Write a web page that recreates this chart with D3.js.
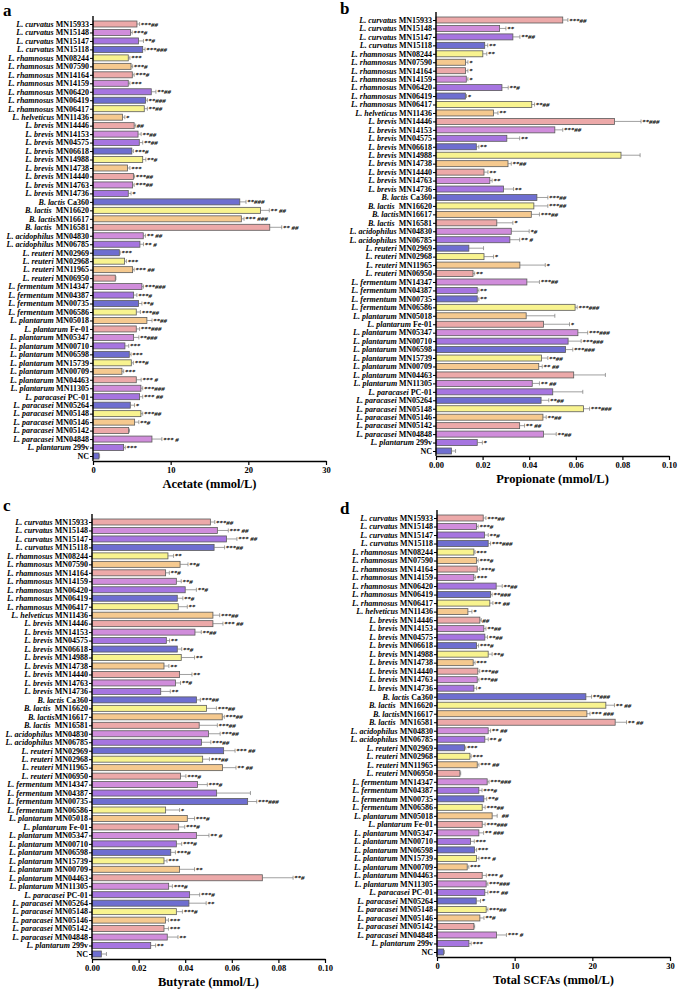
<!DOCTYPE html>
<html>
<head>
<meta charset="utf-8">
<script src="https://cdn.jsdelivr.net/npm/d3@7"></script>
<style>
  body { margin: 0; background: #fff; }
  svg { font-family: "Liberation Serif", "Times New Roman", serif; }
  .lbl { white-space: pre; }
</style>
</head>
<body>
<script>
/* DATA */
var strains = [
  "L. curvatus MN15933", "L. curvatus MN15148", "L. curvatus MN15147", "L. curvatus MN15118",
  "L. rhamnosus MN08244", "L. rhamnosus MN07590", "L. rhamnosus MN14164", "L. rhamnosus MN14159",
  "L. rhamnosus MN06420", "L. rhamnosus MN06419", "L. rhamnosus MN06417", "L. helveticus MN11436",
  "L. brevis MN14446", "L. brevis MN14153", "L. brevis MN04575", "L. brevis MN06618",
  "L. brevis MN14988", "L. brevis MN14738", "L. brevis MN14440", "L. brevis MN14763",
  "L. brevis MN14736", "B. lactis Ca360", "B. lactis  MN16620", "B. lactisMN16617",
  "B. lactis  MN16581", "L. acidophilus MN04830", "L. acidophilus MN06785", "L. reuteri MN02969",
  "L. reuteri MN02968", "L. reuteri MN11965", "L. reuteri MN06950", "L. fermentum MN14347",
  "L. fermentum MN04387", "L. fermentum MN00735", "L. fermentum MN06586", "L. plantarum MN05018",
  "L. plantarum Fe-01", "L. plantarum MN05347", "L. plantarum MN00710", "L. plantarum MN06598",
  "L. plantarum MN15739", "L. plantarum MN00709", "L. plantarum MN04463", "L. plantarum MN11305",
  "L. paracasei PC-01", "L. paracasei MN05264", "L. paracasei MN05148", "L. paracasei MN05146",
  "L. paracasei MN05142", "L. paracasei MN04848", "L. plantarum 299v", "NC"
];

var barColors = ["#eca9a9", "#d08ddb", "#a675e0", "#6e6ed0", "#f8f38f", "#f5c98f"];

// Acetate (mmol/L)
var acetate = [5.66, 4.84, 5.87, 6.4, 4.54, 4.9, 5.06, 4.54, 7.5, 6.77, 6.6, 3.8,
  5.3, 5.8, 5.96, 5.0, 6.4, 4.45, 5.2, 5.1, 4.54, 18.9, 21.56, 19.1,
  22.76, 6.47, 6.04, 3.39, 4.07, 5.1, 2.87, 6.3, 5.23, 5.87, 5.57, 6.94,
  5.57, 5.23, 4.11, 4.67, 4.93, 3.73, 5.57, 6.17, 6.0, 4.8, 6.17, 5.36,
  4.59, 7.59, 3.94, 0.77];
var acetateErr = [6.0, 5.05, 6.5, 6.7, 4.75, 5.1, 5.3, 4.75, 8.1, 7.0, 7.0, 4.1,
  5.5, 6.2, 6.4, 5.2, 6.8, 4.75, 5.35, 5.3, 4.9, 19.7, 22.7, 19.45,
  24.3, 6.75, 6.5, 3.5, 4.3, 5.3, 2.95, 6.5, 5.65, 6.3, 6.1, 7.6,
  6.0, 5.9, 4.6, 4.9, 5.2, 3.95, 6.2, 6.4, 6.4, 5.35, 6.4, 5.9,
  4.7, 8.87, 4.15, 0.85];
var acetateSig = ["***##", "***#", "**#", "***###", "***", "***#", "***#", "***", "**##", "**###", "**##", "*",
  "##", "**##", "**##", "***#", "**#", "***", "***##", "***##", "*", "**###", "** ##", "*** ###",
  "** ##", "** ##", "** #", "***", "***", "*** ##", "", "***###", "***#", "**#", "***##", "**##",
  "***###", "**###", "***", "***", "***#", "***", "*** #", "***###", "*** ##", "*", "***##", "**#",
  "", "*** #", "***", ""];

// Propionate (mmol/L)
var propionate = [0.0544, 0.0273, 0.033, 0.0209, 0.0201, 0.0127, 0.0127, 0.013, 0.0283, 0.0126, 0.0411, 0.0247,
  0.0766, 0.051, 0.0304, 0.0173, 0.0794, 0.0309, 0.0206, 0.0231, 0.029, 0.0433, 0.042, 0.0409,
  0.0261, 0.0323, 0.0317, 0.0141, 0.0206, 0.036, 0.0159, 0.039, 0.0177, 0.0177, 0.0597, 0.0387,
  0.0461, 0.0609, 0.0567, 0.0556, 0.0453, 0.0441, 0.0591, 0.0413, 0.0501, 0.0451, 0.0633, 0.0459,
  0.0359, 0.0461, 0.0177, 0.0066];
var propionateErr = [0.0566, 0.030, 0.036, 0.0222, 0.0218, 0.0137, 0.0137, 0.0137, 0.031, 0.0131, 0.0423, 0.0266,
  0.088, 0.0544, 0.0359, 0.0184, 0.0876, 0.0323, 0.0223, 0.0241, 0.0333, 0.048, 0.048, 0.0444,
  0.033, 0.040, 0.0359, 0.0204, 0.0247, 0.0469, 0.0166, 0.0444, 0.0184, 0.0184, 0.0606, 0.051,
  0.0573, 0.0651, 0.0623, 0.0587, 0.048, 0.0456, 0.0727, 0.0444, 0.063, 0.0484, 0.0659, 0.0473,
  0.038, 0.0516, 0.0199, 0.0084];
var propionateSig = ["***##", "**", "**##", "**", "**", "*", "*", "*", "**#", "*", "**##", "**",
  "**###", "***##", "**", "**", "", "**##", "**", "**", "**", "***##", "***##", "***##",
  "*", "*#", "** #", "", "*", "*", "**", "***##", "**", "**", "***###", "",
  "*", "***###", "***###", "***###", "**##", "** ##", "", "** ##", "", "**##", "***###", "**##",
  "** ##", "**##", "*", ""];

// Butyrate (mmol/L)
var butyrate = [0.0508, 0.0538, 0.0577, 0.0524, 0.0326, 0.0378, 0.0316, 0.0362, 0.040, 0.0366, 0.037, 0.0519,
  0.0519, 0.0442, 0.0319, 0.0366, 0.0383, 0.0309, 0.0376, 0.0358, 0.0295, 0.0448, 0.0491, 0.0559,
  0.046, 0.050, 0.047, 0.0565, 0.0475, 0.056, 0.038, 0.0453, 0.0535, 0.0668, 0.0316, 0.0409,
  0.0372, 0.0448, 0.0362, 0.0338, 0.0309, 0.0376, 0.0731, 0.0329, 0.0419, 0.0416, 0.0362, 0.0315,
  0.0309, 0.0323, 0.0252, 0.004];
var butyrateErr = [0.0527, 0.0585, 0.0622, 0.0569, 0.035, 0.0412, 0.0332, 0.0383, 0.0448, 0.039, 0.0409, 0.0548,
  0.0562, 0.0469, 0.0333, 0.0385, 0.044, 0.033, 0.0429, 0.038, 0.0336, 0.0465, 0.0534, 0.0568,
  0.0538, 0.055, 0.051, 0.0614, 0.0504, 0.0618, 0.0403, 0.0495, 0.068, 0.0707, 0.0376, 0.044,
  0.0398, 0.0502, 0.0385, 0.0358, 0.0322, 0.044, 0.0863, 0.0345, 0.0462, 0.049, 0.0388, 0.0328,
  0.0328, 0.0369, 0.0273, 0.0062];
var butyrateSig = ["***##", "*** ##", "*** ##", "***##", "**", "**#", "**#", "**#", "**#", "**#", "**", "***##",
  "*** ##", "**##", "**", "**#", "**", "**", "**", "**#", "**", "***##", "***##", "***##",
  "***##", "***##", "***##", "*** ##", "***##", "** ##", "***#", "***#", "", "***###", "*", "***#",
  "***#", "** #", "***#", "***#", "***", "**", "**#", "***#", "***#", "**", "***#", "***",
  "***", "**", "**", ""];

// Total SCFAs (mmol/L)
var total = [5.95, 5.09, 6.12, 6.59, 4.75, 5.09, 5.18, 4.75, 7.62, 6.89, 6.8, 3.98,
  5.52, 6.03, 6.16, 5.09, 6.59, 4.66, 5.26, 5.18, 4.75, 19.17, 21.74, 19.3,
  22.94, 6.59, 6.16, 3.55, 4.24, 5.18, 2.95, 6.46, 5.39, 6.03, 5.82, 7.1,
  5.82, 5.39, 4.32, 4.84, 5.09, 3.89, 5.82, 6.33, 6.16, 5.05, 6.33, 5.52,
  4.75, 7.66, 4.11, 0.86];
var totalErr = [6.3, 5.3, 6.6, 6.9, 4.9, 5.3, 5.5, 4.95, 8.4, 7.1, 7.2, 4.5,
  5.7, 6.3, 6.5, 5.35, 7.1, 4.9, 5.5, 5.4, 5.1, 19.9, 22.85, 19.7,
  24.4, 6.9, 6.6, 3.7, 4.4, 5.4, 3.05, 6.7, 5.8, 6.4, 6.2, 7.75,
  6.2, 6.0, 4.8, 5.1, 5.4, 4.1, 6.35, 6.55, 6.55, 5.6, 6.55, 6.05,
  4.85, 8.94, 4.4, 0.95];
var totalSig = ["***##", "***#", "**#", "***###", "***", "***#", "***#", "***", "**##", "**###", "** ##", "*",
  "##", "**##", "**##", "***#", "**#", "***", "***##", "***##", "*", "**###", "** ##", "*** ###",
  "** ##", "** ##", "** #", "***", "***", "*** ##", "", "***###", "***#", "**#", "***##", "  ##",
  "***###", "** ###", "***", "***", "*** #", "***", "*** #", "***###", "*** ##", "*", "***##", "**#",
  "", "*** #", "***", ""];

var panels = [
  {letter: "a", values: acetate, errs: acetateErr, sig: acetateSig, title: "Acetate (mmol/L)",
   max: 30, ticks: [0, 10, 20, 30], fmt: d3.format("d"),
   x0: 93, x1: 326, yFirst: 24, yLast: 456, axisY: 461, top: 16, letterX: 3, letterY: 16},
  {letter: "b", values: propionate, errs: propionateErr, sig: propionateSig, title: "Propionate (mmol/L)",
   max: 0.10, ticks: [0, 0.02, 0.04, 0.06, 0.08, 0.10], fmt: d3.format(".2f"),
   x0: 436, x1: 669, yFirst: 20, yLast: 451, axisY: 456, top: 12, letterX: 340, letterY: 14},
  {letter: "c", values: butyrate, errs: butyrateErr, sig: butyrateSig, title: "Butyrate (mmol/L)",
   max: 0.10, ticks: [0, 0.02, 0.04, 0.06, 0.08, 0.10], fmt: d3.format(".2f"),
   x0: 92, x1: 325, yFirst: 522, yLast: 954, axisY: 959, top: 514, letterX: 3, letterY: 511},
  {letter: "d", values: total, errs: totalErr, sig: totalSig, title: "Total SCFAs (mmol/L)",
   max: 30, ticks: [0, 10, 20, 30], fmt: d3.format("d"),
   x0: 437, x1: 670, yFirst: 518, yLast: 952, axisY: 957, top: 510, letterX: 340, letterY: 514}
];

var svg = d3.select("body").append("svg")
  .attr("width", 678)
  .attr("height", 991);

panels.forEach(function(p) { drawPanel(p); });

function drawPanel(p) {
  var x = d3.scaleLinear().domain([0, p.max]).range([p.x0, p.x1]);
  var y = d3.scalePoint().domain(strains).range([p.yFirst, p.yLast]);
  var barH = 6;
  var g = svg.append("g");

  // bars
  g.selectAll("rect.bar")
    .data(strains)
    .enter().append("rect")
      .attr("class", "bar")
      .attr("x", x(0))
      .attr("y", function(d) { return y(d) - barH / 2; })
      .attr("width", function(d, i) { return x(p.values[i]) - x(0); })
      .attr("height", barH)
      .attr("fill", function(d, i) { return barColors[i % 6]; })
      .attr("stroke", "#5a5a5a")
      .attr("stroke-width", 0.8);

  // error bars
  g.selectAll("line.err")
    .data(strains)
    .enter().append("line")
      .attr("x1", function(d, i) { return x(p.values[i]); })
      .attr("x2", function(d, i) { return x(p.errs[i]); })
      .attr("y1", function(d) { return y(d); })
      .attr("y2", function(d) { return y(d); })
      .attr("stroke", "#777")
      .attr("stroke-width", 0.7);
  g.selectAll("line.cap")
    .data(strains)
    .enter().append("line")
      .attr("x1", function(d, i) { return x(p.errs[i]); })
      .attr("x2", function(d, i) { return x(p.errs[i]); })
      .attr("y1", function(d) { return y(d) - 2; })
      .attr("y2", function(d) { return y(d) + 2; })
      .attr("stroke", "#777")
      .attr("stroke-width", 0.7);

  // significance marks
  g.selectAll("text.sig")
    .data(strains)
    .enter().append("text")
      .attr("class", "lbl")
      .attr("x", function(d, i) { return x(p.errs[i]) + 1; })
      .attr("y", function(d) { return y(d) + 2.5; })
      .style("font-size", "7px")
      .style("font-weight", "bold")
      .style("font-style", "italic")
      .text(function(d, i) { return p.sig[i]; });

  // y axis
  var yAxis = g.append("g")
    .attr("transform", "translate(" + p.x0 + ",0)")
    .call(d3.axisLeft(y).tickSize(3).tickPadding(1).tickFormat(""));
  yAxis.select(".domain").attr("d", "M0," + p.top + "V" + p.axisY).attr("stroke-width", 1.4);
  yAxis.selectAll(".tick line").attr("stroke-width", 1);

  // category labels, species in italics
  g.selectAll("text.cat")
    .data(strains)
    .enter().append("text")
      .attr("class", "lbl")
      .attr("x", p.x0 - 4)
      .attr("y", function(d) { return y(d) + 2.8; })
      .attr("text-anchor", "end")
      .style("font-size", "8px")
      .style("font-weight", "bold")
      .each(function(d) {
        var t = d3.select(this);
        var m = d.match(/^([A-Z]\. [a-z]+)(.*)$/);
        if (m) {
          t.append("tspan").style("font-style", "italic").text(m[1]);
          t.append("tspan").text(m[2]);
        } else {
          t.text(d);
        }
      });

  // x axis
  var xAxis = g.append("g")
    .attr("transform", "translate(0," + p.axisY + ")")
    .call(d3.axisBottom(x).tickValues(p.ticks).tickFormat(p.fmt).tickSize(4).tickSizeOuter(0).tickPadding(2));
  xAxis.select(".domain").attr("stroke-width", 1.4);
  xAxis.selectAll(".tick line").attr("stroke-width", 1.2);
  xAxis.selectAll("text")
    .style("font-family", "Liberation Serif, serif")
    .style("font-size", "8.5px")
    .style("font-weight", "bold")
    .attr("fill", "#000");

  // axis title
  g.append("text")
    .attr("x", (p.x0 + p.x1) / 2)
    .attr("y", p.axisY + 27)
    .attr("text-anchor", "middle")
    .style("font-size", "12.5px")
    .style("font-weight", "bold")
    .text(p.title);

  // panel letter
  g.append("text")
    .attr("x", p.letterX)
    .attr("y", p.letterY)
    .style("font-size", "17px")
    .style("font-weight", "bold")
    .text(p.letter);
}
</script>
</body>
</html>
